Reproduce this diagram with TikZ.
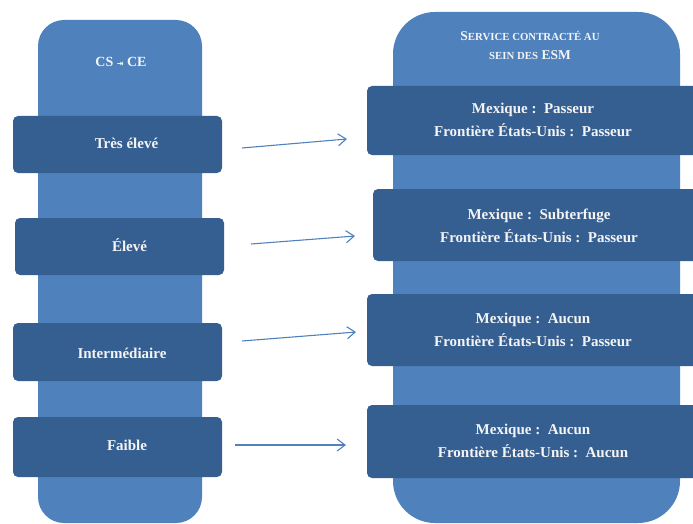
\documentclass[tikz,border=0pt]{standalone}
\usepackage{fontspec}
\setmainfont{Liberation Serif}
\newfontfamily\symfont{DejaVu Sans}
\usetikzlibrary{positioning}
\usetikzlibrary{arrows.meta}

\definecolor{colblue}{RGB}{79,129,189}
\definecolor{boxblue}{RGB}{54,95,145}
\definecolor{txtwhite}{RGB}{244,244,244}

\newcommand{\fakesc}[1]{{\fontsize{10.8}{12}\selectfont #1}}

\tikzset{
  column/.style={fill=colblue, inner sep=0pt},
  level/.style={fill=boxblue, rounded corners=5pt, inner sep=0pt},
  head/.style={text=txtwhite, align=center, inner sep=0pt},
  lvltext/.style={head, font=\bfseries\fontsize{15}{23}\selectfont},
  link/.style={-{Straight Barb[length=8pt,width=12pt]}, colblue, line width=1.1pt}
}

\begin{document}
\begin{tikzpicture}[x=1pt, y=-1pt]
        \useasboundingbox (0,0) rectangle (693,524);

        % Draw the two columns
        \node[column, rounded corners=26pt, minimum width=164pt, minimum height=503pt] (colL) at (120,271.5) {};
        \node[column, rounded corners=42pt, minimum width=287pt, minimum height=511pt] (colR) at (536.5,267.5) {};

        % Column headers
        \node[head, font=\bfseries\fontsize{14}{15}\selectfont] (headL) at (121,62) {CS {\symfont\fontsize{8}{8}\selectfont ⇥} CE};
        \node[head, font=\bfseries\fontsize{13.5}{19}\selectfont] (headR) at (530,45)
            {S\fakesc{ERVICE CONTRACTÉ AU}\\\fakesc{SEIN DES} ESM};

        % Levels on the left
        \node[level, minimum width=209pt, minimum height=57pt] (veryhigh) at (117.5,144.5) {};
        \node[level, minimum width=209pt, minimum height=57pt] (high) at (119.5,246.5) {};
        \node[level, minimum width=209pt, minimum height=58pt] (middle) at (117.5,352) {};
        \node[level, minimum width=209pt, minimum height=60pt] (low) at (117.5,447) {};

        \node[lvltext] (veryhightext) at (126.5,143.5) {Très élevé};
        \node[lvltext] (hightext) at (129.5,245.5) {Élevé};
        \node[lvltext] (middletext) at (122,353) {Intermédiaire};
        \node[lvltext] (lowtext) at (127,445.5) {Faible};

        % Services on the right
        \node[level, minimum width=333pt, minimum height=69pt] (serv1) at (533.5,120.5) {};
        \node[level, minimum width=327pt, minimum height=72pt] (serv2) at (536.5,225) {};
        \node[level, minimum width=333pt, minimum height=72pt] (serv3) at (533.5,330) {};
        \node[level, minimum width=333pt, minimum height=73pt] (serv4) at (533.5,441.5) {};

        \node[lvltext] (text1) at (533,120)
            {Mexique :\ \ Passeur\\Frontière États-Unis :\ \ Passeur};
        \node[lvltext] (text2) at (539,226)
            {Mexique :\ \ Subterfuge\\Frontière États-Unis :\ \ Passeur};
        \node[lvltext] (text3) at (533,330)
            {Mexique :\ \ Aucun\\Frontière États-Unis :\ \ Passeur};
        \node[lvltext] (text4) at (533,441)
            {Mexique :\ \ Aucun\\Frontière États-Unis :\ \ Aucun};

        % Define the ends of the arrows
        \coordinate (s1) at (242,148);
        \coordinate (e1) at (347,139);
        \coordinate (s2) at (251,244);
        \coordinate (e2) at (355,236);
        \coordinate (s3) at (242,341);
        \coordinate (e3) at (356,332);
        \coordinate (s4) at (235,445);
        \coordinate (e4) at (346,445);

        % Draw the arrows
        \foreach \from/\to in {s1/e1, s2/e2, s3/e3, s4/e4}
        \draw[link] (\from) -- (\to);
      \end{tikzpicture}
\end{document}
